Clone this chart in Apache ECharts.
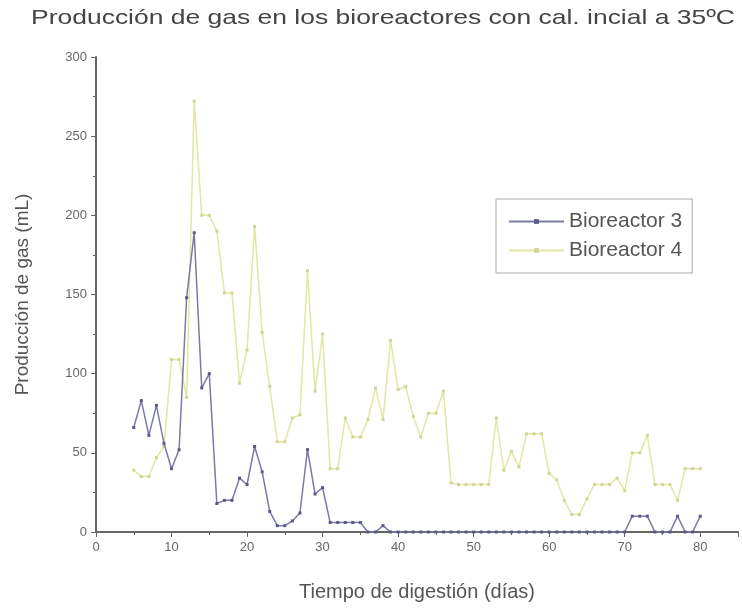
<!DOCTYPE html>
<html><head><meta charset="utf-8">
<script src="https://cdn.jsdelivr.net/npm/echarts@6/dist/echarts.min.js"></script>
<style>html,body{margin:0;padding:0;background:#fff}#c{width:742px;height:609px}</style>
</head><body><div id="c"></div>
<script>
var days = [5,6,7,8,9,10,11,12,13,14,15,16,17,18,19,20,21,22,23,24,25,26,27,28,29,30,31,32,33,34,35,36,37,38,39,40,41,42,43,44,45,46,47,48,49,50,51,52,53,54,55,56,57,58,59,60,61,62,63,64,65,66,67,68,69,70,71,72,73,74,75,76,77,78,79,80];
var bio3 = [66,83,61,80,56,40,52,148,189,91,100,18,20,20,34,30,54,38,13,4,4,7,12,52,24,28,6,6,6,6,6,0,0,4,0,0,0,0,0,0,0,0,0,0,0,0,0,0,0,0,0,0,0,0,0,0,0,0,0,0,0,0,0,0,0,0,10,10,10,0,0,0,10,0,0,10];
var bio4 = [39,35,35,47,54,109,109,85,272,200,200,190,151,151,94,115,193,126,92,57,57,72,74,165,89,125,40,40,72,60,60,71,91,71,121,90,92,73,60,75,75,89,31,30,30,30,30,30,72,39,51,41,62,62,62,37,33,20,11,11,21,30,30,30,34,26,50,50,61,30,30,30,20,40,40,40];
var seriesNames = ['Bioreactor 3','Bioreactor 4'];
var titleText = 'Producción de gas en los bioreactores con cal. incial a 35ºC';
var xName = 'Tiempo de digestión (días)';
var yName = 'Producción de gas (mL)';

function pairs(xs, ys){ return xs.map(function(x,i){ return [x, ys[i]]; }); }
var font = 'Liberation Sans, Arial, sans-serif';
var chart = echarts.init(document.getElementById('c'), null, {renderer:'canvas'});
chart.setOption({
  animation:false,
  backgroundColor:'#fff',
  graphic:[{
    type:'text', x:383, y:18, originX:0, originY:0, scaleX:1.26,
    style:{text:titleText, fontFamily:font, fontSize:21, fill:'#444', align:'center', verticalAlign:'middle'}
  }],
  grid:{left:96,right:4,top:57,bottom:77},
  legend:{
    orient:'vertical',left:496,top:199,
    borderColor:'#aaa',borderWidth:1,padding:[12,10,12,12],itemGap:8,
    itemWidth:55,itemHeight:6,
    textStyle:{fontFamily:font,fontSize:21,color:'#555'},
    data:seriesNames
  },
  xAxis:{
    type:'value',min:0,max:85,interval:10,
    name:xName,nameLocation:'middle',nameGap:50,
    nameTextStyle:{fontFamily:font,fontSize:20,color:'#555'},
    axisLine:{show:true,lineStyle:{color:'#666',width:2}},
    axisTick:{show:true,length:5,lineStyle:{color:'#666'}},
    minorTick:{show:true,splitNumber:2,length:3,lineStyle:{color:'#666'}},
    axisLabel:{fontFamily:font,fontSize:13,color:'#666',margin:9,formatter:function(v){return v<=80?v:'';}},
    splitLine:{show:false}
  },
  yAxis:{
    type:'value',min:0,max:300,interval:50,
    name:yName,nameLocation:'middle',nameGap:64,
    nameTextStyle:{fontFamily:font,fontSize:19,color:'#555'},
    axisLine:{show:true,lineStyle:{color:'#666',width:2}},
    axisTick:{show:true,length:5,lineStyle:{color:'#666'}},
    minorTick:{show:true,splitNumber:2,length:3,lineStyle:{color:'#666'}},
    axisLabel:{fontFamily:font,fontSize:13,color:'#666',margin:9},
    splitLine:{show:false}
  },
  series:[
    {name:seriesNames[0],type:'line',data:pairs(days,bio3),symbol:'rect',symbolSize:3,
     lineStyle:{color:'#7a7aa6',width:1.5},itemStyle:{color:'#5a5a88'},z:3},
    {name:seriesNames[1],type:'line',data:pairs(days,bio4),symbol:'rect',symbolSize:3,
     lineStyle:{color:'#e4e6a4',width:1.5},itemStyle:{color:'#d2d596'},z:2}
  ]
});
</script></body></html>
